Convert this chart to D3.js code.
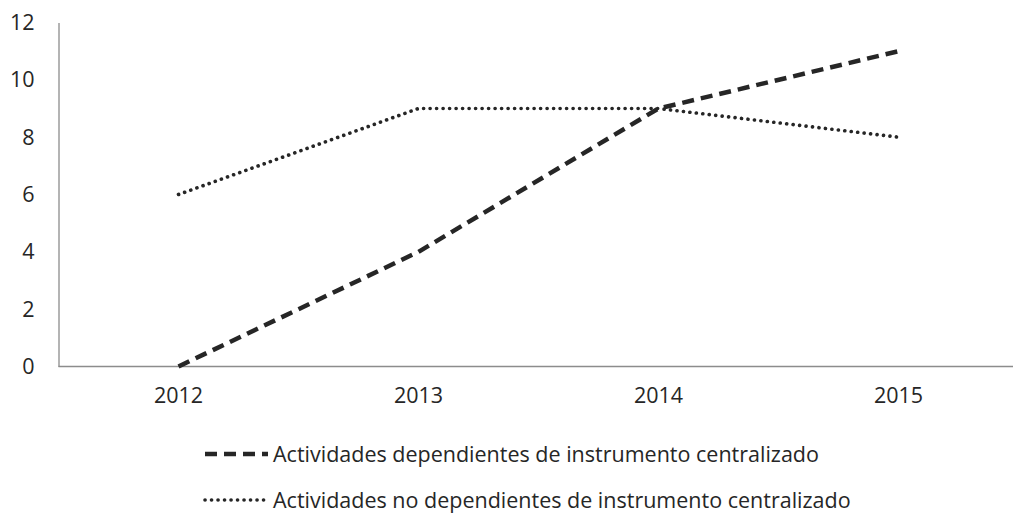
<!DOCTYPE html>
<html>
<head>
<meta charset="utf-8">
<script src="https://cdn.jsdelivr.net/npm/d3@7"></script>
<style>
  body { margin: 0; background: #fff; }
  text { font-family: "Open Sans", sans-serif; fill: #262626; }
</style>
</head>
<body>
<div id="chart"></div>
<script>
// data
var years = ["2012", "2013", "2014", "2015"];
var dependientes = [0, 4, 9, 11];
var noDependientes = [6, 9, 9, 8];
var yTicks = [0, 2, 4, 6, 8, 10, 12];
var seriesNames = [
  "Actividades dependientes de instrumento centralizado",
  "Actividades no dependientes de instrumento centralizado"
];

var width = 1013, height = 513;
var margin = {top: 22.5, left: 58.5, bottom: 366.5};
var fontSize = 21.5;

var svg = d3.select("#chart").append("svg")
    .attr("width", width)
    .attr("height", height);

// set the ranges
var x = d3.scaleBand()
    .domain(years)
    .range([margin.left, 1018.5]);
var y = d3.scaleLinear()
    .domain([0, 12])
    .range([margin.bottom, margin.top]);

// axes
var xAxis = svg.append("g")
    .attr("transform", "translate(0," + margin.bottom + ")")
    .call(d3.axisBottom(x).tickSize(0).tickPadding(21));
xAxis.select(".domain").attr("d", "M" + margin.left + ",0H" + width)
    .attr("stroke", "#8c8c8c").attr("stroke-width", 1.3);
xAxis.selectAll("text").attr("font-size", fontSize).attr("font-family", "Open Sans, sans-serif").attr("fill", "#262626");

var yAxis = svg.append("g")
    .attr("transform", "translate(" + margin.left + ",0)")
    .call(d3.axisLeft(y).tickValues(yTicks).tickSize(0).tickPadding(24));
yAxis.select(".domain").attr("stroke", "#8c8c8c").attr("stroke-width", 1.3);
yAxis.selectAll("text").attr("font-size", fontSize).attr("font-family", "Open Sans, sans-serif").attr("fill", "#262626");

var line = d3.line()
    .x(function(d, i) { return x(years[i]) + x.bandwidth() / 2; })
    .y(function(d) { return y(d); });

var styles = [
  {data: dependientes, dash: "12,7", width: 4.5, cap: "butt"},
  {data: noDependientes, dash: "0.1,6.4", width: 3.6, cap: "round"}
];

styles.forEach(function(s) {
  svg.append("path")
      .datum(s.data)
      .attr("d", line)
      .attr("fill", "none")
      .attr("stroke", "#262626")
      .attr("stroke-width", s.width)
      .attr("stroke-dasharray", s.dash)
      .attr("stroke-linecap", s.cap);
});

// legend
var legend = svg.append("g");
styles.forEach(function(s, i) {
  var ly = 454 + i * 46;
  legend.append("line")
      .attr("x1", 205).attr("x2", 268)
      .attr("y1", ly).attr("y2", ly)
      .attr("stroke", "#262626")
      .attr("stroke-width", s.width)
      .attr("stroke-dasharray", s.dash)
      .attr("stroke-linecap", s.cap);
  legend.append("text")
      .attr("x", 273).attr("y", ly)
      .attr("dy", "0.35em")
      .attr("font-size", fontSize)
      .text(seriesNames[i]);
});
</script>
</body>
</html>
